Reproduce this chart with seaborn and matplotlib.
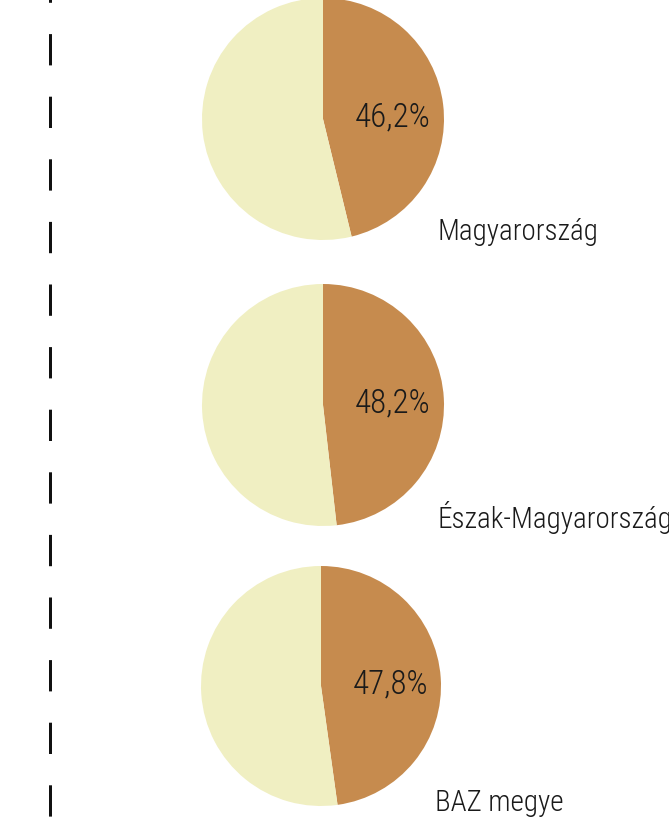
import matplotlib
matplotlib.use("Agg")
import matplotlib.pyplot as plt
import seaborn as sns

regions = ["Magyarország", "Észak-Magyarország", "BAZ megye"]
share = [46.2, 48.2, 47.8]
share_labels = ["46,2%", "48,2%", "47,8%"]

sns.set_theme(style="white")
plt.rcParams['font.family'] = ['Roboto Condensed', 'DejaVu Sans']
plt.rcParams['lines.scale_dashes'] = False

pal = ["#C68B4E", "#F0EFC2"]

W, H = 669, 837
fig = plt.figure(figsize=(W / 100, H / 100), dpi=100)
fig.patch.set_facecolor("white")

bg = fig.add_axes([0, 0, 1, 1])
bg.set_xlim(0, W)
bg.set_ylim(H, 0)
bg.axis("off")
px = 72 / 100
bg.plot([49.5, 49.5], [0, H], color="#111111", lw=3 * px,
        linestyle=(28 * px, (31.3 * px, 31.3 * px)), solid_capstyle="butt")

centers = [(323, 120, 121), (323, 406, 121), (321, 687, 120)]
label_pos = [(438, 232), (438, 517), (435, 803)]

for (cx, cy, r), v, lab, name, (lx, ly) in zip(centers, share, share_labels, regions, label_pos):
    ax = fig.add_axes([(cx - r) / W, 1 - (cy + r) / H, 2 * r / W, 2 * r / H])
    ax.pie([v, 100 - v], colors=pal, startangle=90, counterclock=False,
           wedgeprops=dict(linewidth=0), radius=1)
    ax.set_xlim(-1, 1)
    ax.set_ylim(-1, 1)
    ax.set_aspect("auto")
    ax.axis("off")
    ax.text(70 / r, 0.02, lab, ha="center", va="center", fontsize=23.8,
            fontweight="light", color="#1a1a1a")
    bg.text(lx, ly, name, ha="left", va="center", fontsize=21,
            fontweight="light", color="#1a1a1a")

fig.savefig("out.png", dpi=100, facecolor="white")
